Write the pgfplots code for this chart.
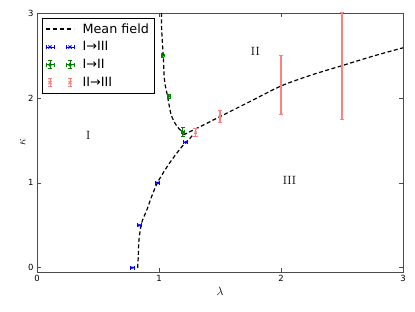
\documentclass[border=0pt]{standalone}
\usepackage{pgfplots}
\pgfplotsset{compat=1.18}
\usepackage{fontspec}
\newfontfamily\djv{DejaVu Sans}
\begin{document}
\begin{tikzpicture}
\definecolor{mblue}{rgb}{0,0,1}
\definecolor{mgreen}{rgb}{0,0.5,0}
\definecolor{mred}{rgb}{1,0.5,0.5}
\begin{axis}[name=ax,
  scale only axis, width=366bp, height=259bp,
  xmin=0, xmax=3, ymin=-0.05, ymax=3,
  xtick={0,1,2,3}, ytick={0,1,2,3},
  tick align=inside, major tick length=4bp,
  xtick pos=both, ytick pos=both,
  axis line style={black!70, line width=0.8bp},
  every tick/.style={black!70, line width=0.6bp},
  ticklabel style={font=\djv\fontsize{8.5}{10}\selectfont},
  /pgf/number format/assume math mode=true,
  xlabel={$\lambda$}, ylabel={$\kappa$},
  xlabel style={font=\fontsize{12}{14}\selectfont, yshift=2bp},
  ylabel style={font=\fontsize{12}{14}\selectfont, yshift=-4bp},
  legend style={at={(rel axis cs:0.014,0.98)}, anchor=north west, draw=black, line width=0.6bp,
    font=\djv\fontsize{12.8}{14}\selectfont, inner sep=3bp, row sep=3bp, column sep=6bp,
    cells={anchor=west}},
  legend cell align=left,
]
% mean field curves
\addplot[black, line width=1.2bp, dash pattern=on 4bp off 2.5bp, smooth, tension=0.5,
  legend image code/.code={\draw[black, line width=1.2bp, dash pattern=on 4bp off 3bp] (0bp,0bp) -- (28bp,0bp);}] coordinates {
 (1.02,3.0) (1.022,2.8) (1.035,2.49) (1.045,2.21) (1.07,2.02) (1.10,1.80) (1.145,1.67) (1.19,1.60) (1.22,1.575)};
\addlegendentry{Mean field}
\addplot[black, line width=1.2bp, dash pattern=on 4bp off 2.5bp, smooth, tension=0.5, forget plot] coordinates {
 (1.20,1.565) (1.25,1.60) (1.35,1.67) (1.5,1.78) (1.75,1.96) (2.0,2.14) (2.25,2.27) (2.5,2.38) (2.75,2.49) (3.0,2.59)};
\addplot[black, line width=1.2bp, dash pattern=on 4bp off 2.5bp, smooth, tension=0.5, forget plot] coordinates {
 (0.825,0.0) (0.83,0.13) (0.836,0.33) (0.858,0.53) (0.90,0.68) (0.94,0.84) (0.994,1.02) (1.09,1.24) (1.19,1.43) (1.24,1.50) (1.28,1.57)};
% I -> III  (x errors)
\addplot[mblue, only marks, mark=x, mark size=1.6bp, line width=0.8bp, forget plot,
  error bars/.cd, x dir=both, x explicit, error bar style={mblue, line width=0.8bp}, error mark=none]
 coordinates {(0.78,0.0) +- (0.016,0) (0.84,0.5) +- (0.016,0) (0.99,1.0) +- (0.016,0) (1.22,1.48) +- (0.016,0)};
\addplot[mblue, only marks, mark=|, mark size=2bp, mark options={line width=0.8bp}, forget plot]
 coordinates {(0.764,0.0) (0.796,0.0) (0.824,0.5) (0.856,0.5) (0.974,1.0) (1.006,1.0) (1.204,1.48) (1.236,1.48)};
\addlegendimage{legend image code/.code={
  \foreach \c in {4,24} {
   \draw[mblue, line width=0.8bp] (\c bp-4bp,0) -- (\c bp+4bp,0);
   \draw[mblue, line width=0.8bp] (\c bp-4bp,-2bp) -- (\c bp-4bp,2bp);
   \draw[mblue, line width=0.8bp] (\c bp+4bp,-2bp) -- (\c bp+4bp,2bp);
   \draw[mblue, line width=0.8bp] (\c bp-1.6bp,-1.6bp) -- (\c bp+1.6bp,1.6bp) (\c bp-1.6bp,1.6bp) -- (\c bp+1.6bp,-1.6bp);}
}}
\addlegendentry{I→III}
% I -> II
\addplot[mgreen, only marks, mark=*, mark size=1.1bp, line width=0.8bp, forget plot,
  error bars/.cd, x dir=both, y dir=both, x explicit, y explicit, error bar style={mgreen, line width=0.8bp}, error mark=none]
 coordinates {(1.03,2.5) +- (0.012,0.02) (1.08,2.02) +- (0.012,0.02) (1.195,1.60) +- (0.012,0.05)};
\addplot[mgreen, only marks, mark=|, mark size=1.8bp, mark options={line width=0.8bp}, forget plot]
 coordinates {(1.018,2.5) (1.042,2.5) (1.068,2.02) (1.092,2.02) (1.183,1.60) (1.207,1.60)};
\addplot[mgreen, only marks, mark=-, mark size=1.8bp, mark options={line width=0.8bp}, forget plot]
 coordinates {(1.03,2.48) (1.03,2.52) (1.08,2.0) (1.08,2.04) (1.195,1.55) (1.195,1.65)};
\addlegendimage{legend image code/.code={
  \foreach \c in {4,24} {
   \draw[mgreen, line width=0.8bp] (\c bp-4bp,0) -- (\c bp+4bp,0);
   \draw[mgreen, line width=0.8bp] (\c bp-4bp,-2bp) -- (\c bp-4bp,2bp);
   \draw[mgreen, line width=0.8bp] (\c bp+4bp,-2bp) -- (\c bp+4bp,2bp);
   \draw[mgreen, line width=0.8bp] (\c bp,-4bp) -- (\c bp,4bp);
   \draw[mgreen, line width=0.8bp] (\c bp-2bp,-4bp) -- (\c bp+2bp,-4bp);
   \draw[mgreen, line width=0.8bp] (\c bp-2bp,4bp) -- (\c bp+2bp,4bp);
   \fill[mgreen] (\c bp,0) circle (1.6bp);}
}}
\addlegendentry{I→II}
% II -> III (y errors)
\addplot[mred, only marks, mark=x, mark size=1.6bp, line width=1bp, forget plot,
  error bars/.cd, y dir=both, y explicit, error bar style={mred, line width=1.1bp}, error mark=none]
 coordinates {(1.3,1.59) +- (0,0.05) (1.5,1.78) +- (0,0.07) (2.0,2.15) +- (0,0.35) (2.5,2.37) +- (0,0.63)};
\addplot[mred, only marks, mark=-, mark size=2.4bp, mark options={line width=1bp}, forget plot]
 coordinates {(1.3,1.54) (1.3,1.64) (1.5,1.71) (1.5,1.85) (2.0,1.80) (2.0,2.50) (2.5,1.74) (2.5,3.0)};
\addlegendimage{legend image code/.code={
  \foreach \c in {4,24} {
   \draw[mred, line width=1bp] (\c bp,-4bp) -- (\c bp,4bp);
   \draw[mred, line width=1bp] (\c bp-2bp,-4bp) -- (\c bp+2bp,-4bp);
   \draw[mred, line width=1bp] (\c bp-2bp,4bp) -- (\c bp+2bp,4bp);
   \draw[mred, line width=1bp] (\c bp-1.6bp,-1.6bp) -- (\c bp+1.6bp,1.6bp) (\c bp-1.6bp,1.6bp) -- (\c bp+1.6bp,-1.6bp);}
}}
\addlegendentry{II→III}
\node[font=\fontsize{12}{14}\selectfont] at (axis cs:0.42,1.56) {I};
\node[font=\fontsize{12}{14}\selectfont] at (axis cs:1.79,2.55) {II};
\node[font=\fontsize{12}{14}\selectfont] at (axis cs:2.07,1.03) {III};
\end{axis}
\pgfresetboundingbox
\path ([shift={(-37bp,-40bp)}]ax.south west) rectangle ([shift={(12bp,13bp)}]ax.north east);
\end{tikzpicture}
\end{document}
